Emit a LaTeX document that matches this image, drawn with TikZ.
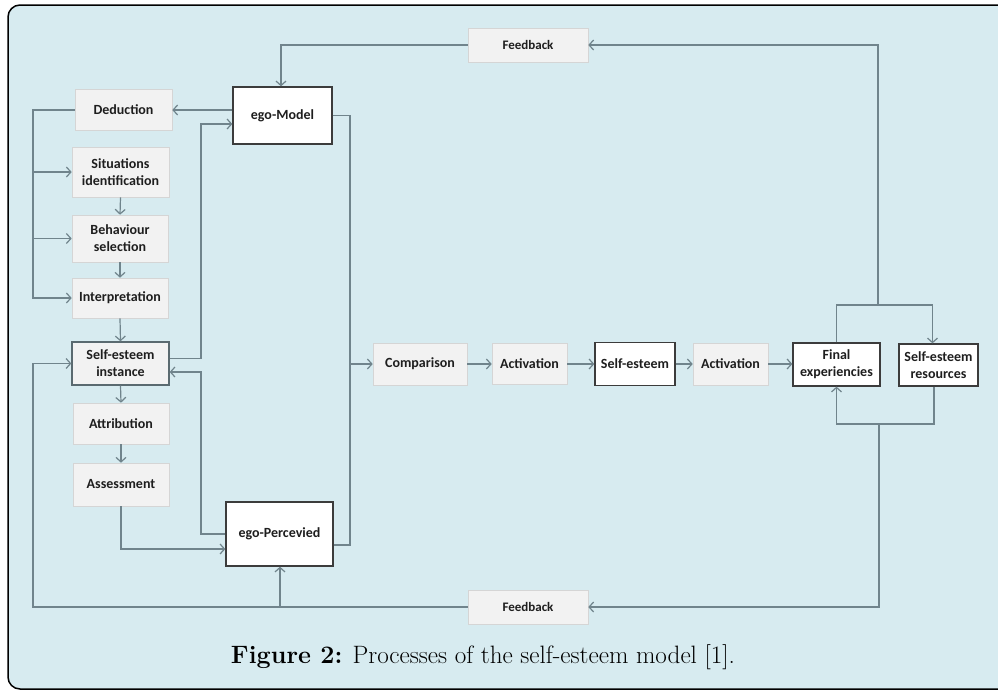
\documentclass[tikz,border=0pt]{standalone}
\usepackage{fontspec}
\newfontfamily\boxfont{Carlito}
\usetikzlibrary{arrows.meta}
\definecolor{bgblue}{RGB}{215,235,240}
\definecolor{boxgray}{RGB}{242,242,242}
\definecolor{linegray}{RGB}{112,132,140}
\definecolor{framedark}{RGB}{60,60,60}
\definecolor{txt}{RGB}{30,30,30}
\tikzset{
  box/.style={font=\boxfont\bfseries\fontsize{14}{17}\selectfont, text=txt, align=center, inner sep=0pt},
  graybox/.style={box, fill=boxgray, draw=boxgray!88!black, line width=0.6pt},
  whitebox/.style={box, fill=white, draw=framedark, line width=1.3pt},
  instbox/.style={box, fill=boxgray, draw=linegray!80!black, line width=1.3pt},
  conn/.style={draw=linegray, line width=1.2pt},
  arr/.style={conn, -{Straight Barb[length=4.5pt,width=10pt]}},
}
\begin{document}
\begin{tikzpicture}[x=1pt,y=-1pt]
\useasboundingbox (0,0) rectangle (998,691);
\clip (0,0) rectangle (998,691);
\fill[white] (0,0) rectangle (998,691);
\draw[black, line width=1.5pt, fill=bgblue, rounded corners=12pt] (8,5) rectangle (1015,689);

% left column
\node[graybox, minimum width=97pt, minimum height=41pt] (ded) at (123.5,110) {Deduction};
\node[graybox, minimum width=97pt, minimum height=50pt] (sit) at (120.5,172) {Situations\\identification};
\node[graybox, minimum width=96pt, minimum height=47pt] (beh) at (120,238.5) {Behaviour\\selection};
\node[graybox, minimum width=96pt, minimum height=40pt] (int) at (120,298) {Interpretation};
\node[instbox, minimum width=97pt, minimum height=43pt] (sei) at (120.5,363.5) {Self-esteem\\instance};
\node[graybox, minimum width=96pt, minimum height=41pt] (att) at (121,423.5) {Attribution};
\node[graybox, minimum width=96pt, minimum height=43pt] (ass) at (121,484.5) {Assessment};

% ego boxes
\node[whitebox, minimum width=99pt, minimum height=57pt] (em) at (282.5,115.5) {ego-Model};
\node[whitebox, minimum width=107pt, minimum height=64pt] (ep) at (279.5,534) {ego-Percevied};

% middle row
\node[graybox, minimum width=94pt, minimum height=42pt] (cmp) at (420,364) {Comparison};
\node[graybox, minimum width=75pt, minimum height=41pt] (act1) at (529.5,364) {Activation};
\node[whitebox, minimum width=80pt, minimum height=43pt] (se) at (635,364) {Self-esteem};
\node[graybox, minimum width=75pt, minimum height=42pt] (act2) at (730.5,364) {Activation};
\node[whitebox, minimum width=87pt, minimum height=43pt] (fe) at (836.5,364.5) {Final\\experiencies};
\node[whitebox, minimum width=79pt, minimum height=42pt] (ser) at (938.5,365) {Self-esteem\\resources};

% feedback boxes
\node[graybox, font=\boxfont\bfseries\fontsize{13}{15}\selectfont, minimum width=120pt, minimum height=34pt] (fbt) at (528,45) {Feedback};
\node[graybox, font=\boxfont\bfseries\fontsize{13}{15}\selectfont, minimum width=120pt, minimum height=34pt] (fbb) at (528,607) {Feedback};

% caption
\node[inner sep=0pt, text=black] (cap) at (483,657) {\resizebox{504pt}{!}{\fontsize{22}{26}\selectfont\textbf{Figure 2:} Processes of the self-esteem model [1].}};

% helper coordinates
\coordinate (jt) at (878,305);
\coordinate (jb) at (879,424);
\coordinate (ltc) at (33,110);
\coordinate (lbc) at (33,607);
\coordinate (ebr) at (280,607);
\coordinate (xl) at (201,240);
\coordinate (xr) at (350,364);

% top feedback loop
\draw[arr] (fe.north) |- (jt) -| ([xshift=-6pt]ser.north);
\draw[arr] (jt) |- (fbt.east);
\draw[arr] (fbt.west) -| ([xshift=-1.5pt]em.north);

% bottom feedback loop
\draw[arr] ([xshift=-4.5pt]ser.south) |- (jb) -| (fe.south);
\draw[arr] (jb) |- (fbb.east);
\draw[arr] (fbb.west) -- (lbc) |- (sei.west);
\draw[arr] (ebr) -- (ebr |- ep.south);

% left column
\draw[arr] (em.west |- ded.east) -- (ded.east);
\draw[arr] (ded.west) -- (ltc) |- (int.west);
\draw[arr] (ltc |- sit.west) -- (sit.west);
\draw[arr] (ltc |- beh.west) -- (beh.west);
\draw[arr] (sit.south) -- (beh.north);
\draw[arr] (beh.south) -- (int.north);
\draw[arr] (int.south) -- (sei.north);
\draw[arr] (sei.south) -- (att.north);
\draw[arr] (att.south) -- (ass.north);

% self-esteem instance <-> ego boxes
\draw[arr] ([yshift=5pt]sei.east) -| (xl) |- ([yshift=-8.5pt]em.west);
\draw[arr] (ep.west) -| (xl |- ep.west) |- ([yshift=-8.5pt]sei.east);
\draw[arr] (ass.south) |- ([yshift=-15pt]ep.west);

% ego boxes to comparison
\draw[conn] (em.east) -| (xr);
\draw[conn] ([yshift=-11pt]ep.east) -| (xr);
\draw[arr] (xr) -- (cmp.west);

% main chain
\draw[arr] (cmp.east) -- (act1.west);
\draw[arr] (act1.east) -- (se.west);
\draw[arr] (se.east) -- (act2.west);
\draw[arr] (act2.east) -- (fe.west |- act2.east);
\end{tikzpicture}
\end{document}
